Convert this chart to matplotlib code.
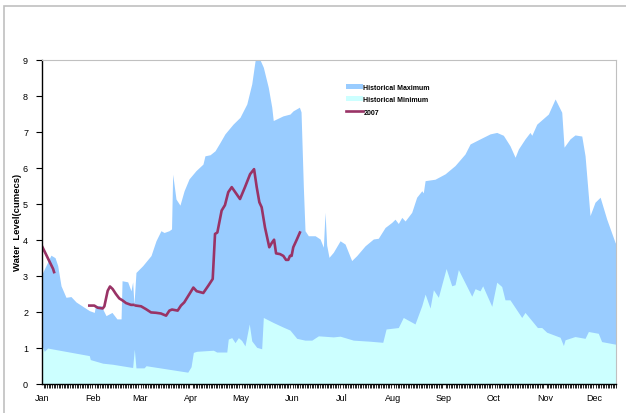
import numpy as np
import matplotlib
matplotlib.use("Agg")
import matplotlib.pyplot as plt
from matplotlib.patches import Patch, Rectangle
from matplotlib.lines import Line2D

plt.rcParams['font.family'] = ['Liberation Sans', 'DejaVu Sans']

# day of year -> water level (cumecs)
max_days = [0, 5.4, 7.9, 9.5, 11.5, 14.5, 17.5, 20.6, 28.6, 31.6, 32.3, 35.7, 38.7, 42.3, 45.3, 47.8,
            48.4, 51.8, 53.8, 54.8, 55.6, 56.8, 60.9, 65.9, 68.9, 71.9, 73.8, 76.8, 78.3, 79.0, 81.0,
            83.4, 85.9, 88.9, 93.1, 97.3, 98.5, 101.6, 104.6, 107.6, 110.6, 115.5, 119.7, 123.8, 126.8,
            128.8, 130.8, 133.8, 136.8, 138.9, 139.8, 145.7, 149.9, 151.8, 155.6, 156.6, 158.0, 159.0,
            161.0, 165.1, 168.1, 170.1, 171.1, 172.1, 173.5, 176.1, 180.2, 183.2, 185.2, 187.2, 190.3,
            195.3, 200.3, 203.3, 207.4, 211.4, 213.4, 215.4, 217.5, 219.5, 223.5, 226.5, 229.6, 230.5,
            231.6, 237.6, 243.7, 249.7, 255.7, 258.8, 264.8, 270.9, 274.9, 278.9, 282.9, 286.0, 288.0,
            292.0, 295.0, 296.1, 299.1, 306.1, 310.2, 314.2, 315.6, 319.2, 322.2, 326.3, 328.3, 331.3,
            334.3, 337.4, 341.4, 346.4, 348]
max_level = [3.05, 3.57, 3.5, 3.28, 2.72, 2.40, 2.42, 2.27, 2.03, 1.98, 2.17, 2.17, 1.89, 1.98, 1.80, 1.80,
             2.86, 2.83, 2.58, 2.83, 2.2, 3.09, 3.28, 3.56, 3.97, 4.25, 4.20, 4.25, 4.3, 5.82, 5.13,
             4.96, 5.36, 5.69, 5.92, 6.10, 6.33, 6.36, 6.47, 6.70, 6.94, 7.21, 7.40, 7.77, 8.33,
             8.97, 9.10, 8.79, 8.23, 7.68, 7.31, 7.44, 7.49, 7.58, 7.68, 7.55, 5.46, 4.25,
             4.11, 4.11, 4.02, 3.79, 4.76, 3.85, 3.51, 3.65, 3.97, 3.88, 3.65, 3.42, 3.56,
             3.83, 4.02, 4.04, 4.34, 4.48, 4.57, 4.45, 4.62, 4.52, 4.76, 5.18, 5.36, 5.30,
             5.64, 5.68, 5.83, 6.06, 6.38, 6.66, 6.80, 6.94, 6.98, 6.90, 6.61, 6.29, 6.52,
             6.80, 6.98, 6.90, 7.21, 7.49, 7.91, 7.54, 6.57, 6.80, 6.91, 6.88, 6.33, 4.67,
             5.04, 5.18, 4.57, 3.93, 3.8]

min_days = [0, 1.4, 3.4, 28.6, 29.2, 36.7, 42.7, 54.8, 55.8, 56.8, 61.7, 62.9, 88.1, 90.1, 91.5, 93.5,
            103.6, 105.6, 111.7, 112.6, 114.7, 116.7, 118.7, 120.7, 122.7, 125.3, 126.8, 129.8, 132.8,
            133.8, 139.8, 145.9, 149.9, 154.0, 159.0, 163.1, 167.1, 176.1, 180.2, 188.2, 198.3, 206.0,
            208.0, 215.4, 218.4, 225.5, 229.6, 231.6, 234.6, 236.6, 239.6, 244.3, 247.7, 249.7, 251.7,
            259.8, 261.8, 264.8, 266.4, 271.9, 274.9, 277.9, 279.9, 282.9, 290.0, 292.0, 299.5, 302.1,
            305.1, 313.2, 315.2, 316.2, 322.2, 328.3, 330.3, 336.3, 338.3, 346.4, 348]
min_level = [1.06, 0.90, 0.99, 0.78, 0.67, 0.57, 0.54, 0.45, 0.96, 0.44, 0.44, 0.50, 0.32, 0.47, 0.87, 0.90,
             0.93, 0.88, 0.88, 1.24, 1.28, 1.14, 1.28, 1.20, 1.05, 1.66, 1.19, 1.01, 0.97,
             1.84, 1.70, 1.57, 1.49, 1.26, 1.21, 1.21, 1.33, 1.30, 1.32, 1.21, 1.18, 1.15,
             1.52, 1.56, 1.84, 1.66, 2.17, 2.49, 2.10, 2.61, 2.40, 3.20, 2.72, 2.75, 3.17,
             2.43, 2.64, 2.58, 2.72, 2.15, 2.82, 2.70, 2.33, 2.33, 1.84, 1.98, 1.56, 1.56,
             1.43, 1.29, 1.06, 1.22, 1.31, 1.26, 1.45, 1.40, 1.17, 1.10, 1.10]

# 2007 record (nan = gap)
y2007_days = [0, 6.7, 7.3, np.nan,
              28.6, 31.6, 33.7, 36.7, 37.7, 39.7, 41.1, 42.7, 44.7, 46.7, 48.8, 50.8, 53.8, 55.2, np.nan,
              56.8, 59.9, 62.9, 65.9, 68.9, 71.9, 75.0, 77.0, 78.6, 82.0, 84.0, 86.0, 89.1, 91.5, 93.5,
              97.5, 100.5, 103.2, 104.6, 106.0, 108.6, 110.6, 112.6, 114.7, 119.7, 122.7, 125.8, 128.2,
              129.8, 131.4, 132.8, 134.8, 137.4, 138.9, 140.3, 141.5, 143.9, 145.9, 147.5, 148.9, 149.9,
              150.9, 151.9, 154.0, 155.9]
y2007_level = [3.82, 3.19, 3.10, np.nan,
               2.17, 2.17, 2.11, 2.09, 2.15, 2.58, 2.70, 2.63, 2.49, 2.37, 2.31, 2.24, 2.19, 2.19, np.nan,
               2.17, 2.15, 2.07, 1.98, 1.97, 1.95, 1.89, 2.03, 2.06, 2.03, 2.17, 2.26, 2.49, 2.67, 2.57,
               2.52, 2.72, 2.91, 4.16, 4.20, 4.81, 4.96, 5.32, 5.46, 5.13, 5.46, 5.82, 5.96,
               5.46, 5.04, 4.90, 4.34, 3.79, 3.91, 4.00, 3.62, 3.60, 3.55, 3.44, 3.44, 3.55,
               3.55, 3.79, 4.00, 4.20]

months = ["Jan", "Feb", "Mar", "Apr", "May", "Jun", "Jul", "Aug", "Sep", "Oct", "Nov", "Dec"]
month_start = [0, 31, 59, 90, 120, 151, 181, 212, 243, 273, 304, 334]

fig = plt.figure(figsize=(6.26, 4.14), dpi=100)
ax = fig.add_axes([42 / 626, 1 - 384.7 / 414, 574 / 626, 324 / 414])

# outer chart frame
fig.patches.append(Rectangle((4 / 626, -0.1), 1.2, 1 - 7 / 414 + 0.1, transform=fig.transFigure,
                             fill=False, edgecolor="#c0c0c0", linewidth=1.2))

ax.fill_between(max_days, 0, max_level, color="#99ccff", linewidth=0)
ax.fill_between(min_days, 0, min_level, color="#ccffff", linewidth=0)
ax.plot(y2007_days, y2007_level, color="#993366", linewidth=1.9)

ax.set_xlim(0, 347)
ax.set_ylim(0, 9)
ax.set_yticks(range(10))
ax.set_xticks(month_start)
ax.set_xticklabels(months)
ax.set_xticks(np.arange(0, 348, 1), minor=True)
ax.tick_params(axis="x", which="major", length=0, pad=7, labelsize=6.5)
ax.tick_params(axis="x", which="minor", length=3, width=0.6, color="black")
ax.tick_params(axis="y", length=4, width=0.8, pad=6, labelsize=6.5)
ax.set_ylabel("Water  Level(cumecs)", fontsize=6.8, fontweight="bold")
ax.yaxis.set_label_coords(-20 / 574, 0.5)

for s in ["top", "right"]:
    ax.spines[s].set_color("#c0c0c0")
for s in ["left", "bottom"]:
    ax.spines[s].set_color("black")
    ax.spines[s].set_linewidth(1.0)

handles = [Patch(facecolor="#99ccff", edgecolor="none"),
           Patch(facecolor="#ccffff", edgecolor="none"),
           Line2D([0], [0], color="#993366", linewidth=1.9)]
ax.legend(handles, ["Historical Maximum", "Historical Minimum", "2007"],
          loc="upper left", bbox_to_anchor=(0.525, 0.935), frameon=False,
          prop={"size": 5, "weight": "bold"}, handlelength=2.4, handleheight=0.7,
          handletextpad=0.1, labelspacing=0.8, borderaxespad=0)

plt.savefig("out.png", dpi=100)
